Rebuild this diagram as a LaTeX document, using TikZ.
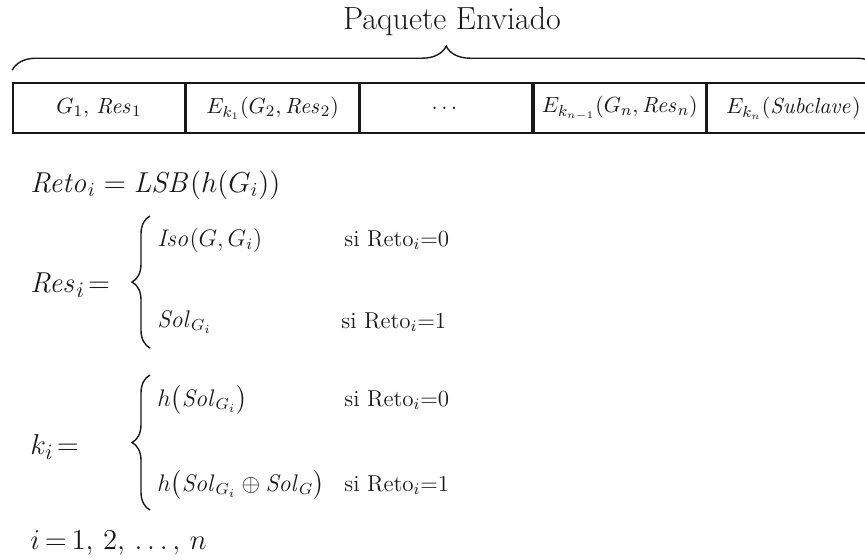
\documentclass[tikz,border=0pt]{standalone}
\usepackage{amsmath}
\usetikzlibrary{positioning,decorations.pathreplacing}
\definecolor{ink}{RGB}{25,25,25}
\tikzset{
  cell/.style={draw=ink,line width=0.8pt,minimum width=86pt,minimum height=25pt,
    inner sep=0pt,font=\fontsize{11}{13}\selectfont,text=ink},
  eqn/.style={anchor=west,inner sep=0pt,font=\fontsize{15}{18}\selectfont,text=ink},
  term/.style={anchor=west,inner sep=0pt,font=\fontsize{12}{14}\selectfont,text=ink},
  cond/.style={anchor=west,inner sep=0pt,font=\fontsize{11.5}{14}\selectfont,text=ink},
  curly/.style={decorate,draw=ink,line width=0.7pt,decoration={brace,amplitude=#1}},
  curly/.default=8pt,
}
\newcommand{\mi}[1]{\mathit{#1}}
\begin{document}
\begin{tikzpicture}[x=0.5pt,y=-0.5pt]
  \useasboundingbox (0,0) rectangle (865,559);
  % sent packet
  \node[cell] (c1) at (99,108) {$G_1,\,\mi{Res}_1$};
  \node[cell,right=0pt of c1] (c2) {$E_{k_1}(G_2,\mi{Res}_2)$};
  \node[cell,right=0pt of c2] (c3) {$\dots$};
  \node[cell,right=0pt of c3] (c4) {$E_{k_{n-1}}(G_n,\mi{Res}_n)$};
  \node[cell,right=0pt of c4] (c5) {$E_{k_n}(\mi{Subclave})$};
  \coordinate (bl) at ([yshift=6pt]c1.north west);
  \coordinate (br) at ([yshift=6pt]c5.north east);
  \draw[curly=12pt] (bl) -- (br);
  \node[font=\fontsize{16}{19}\selectfont,text=ink] (title) at (452,22) {Paquete Enviado};

  % challenge
  \node[eqn,font=\fontsize{14.5}{17}\selectfont] (reto) at (30,185) {$\mi{Reto}_i=\mi{LSB}(h(G_i))$};

  % response
  \node[eqn] (res) at (30,285) {$\mi{Res}_i\mskip2mu{=}$};
  \coordinate (rb) at (150,348); \coordinate (rt) at (150,216);
  \draw[curly=9pt] (rb) -- (rt);
  \node[term] (iso) at (157,240) {$\mi{Iso}(G,G_i)$};
  \node[term] (sol) at (157,322) {$\mi{Sol}_{G_i}$};
  \node[cond] (r0) at (344,240) {si Reto$_i$=0};
  \node[cond] (r1) at (341,322) {si Reto$_i$=1};

  % key
  \node[eqn] (key) at (30,447) {$k_i\mskip2mu{=}$};
  \coordinate (kb) at (150,510); \coordinate (kt) at (150,375);
  \draw[curly=9pt] (kb) -- (kt);
  \node[term] (h0) at (157,400) {$h\bigl(\mi{Sol}_{G_i}\bigr)$};
  \node[term] (h1) at (157,485) {$h\bigl(\mi{Sol}_{G_i}\oplus\mi{Sol}_G\bigr)$};
  \node[cond] (k0) at (344,400) {si Reto$_i$=0};
  \node[cond] (k1) at (344,485) {si Reto$_i$=1};

  \node[eqn] (idx) at (30,543) {$i\mskip3mu{=}\mskip3mu1,\,2,\,\dots,\,n$};
\end{tikzpicture}
\end{document}
